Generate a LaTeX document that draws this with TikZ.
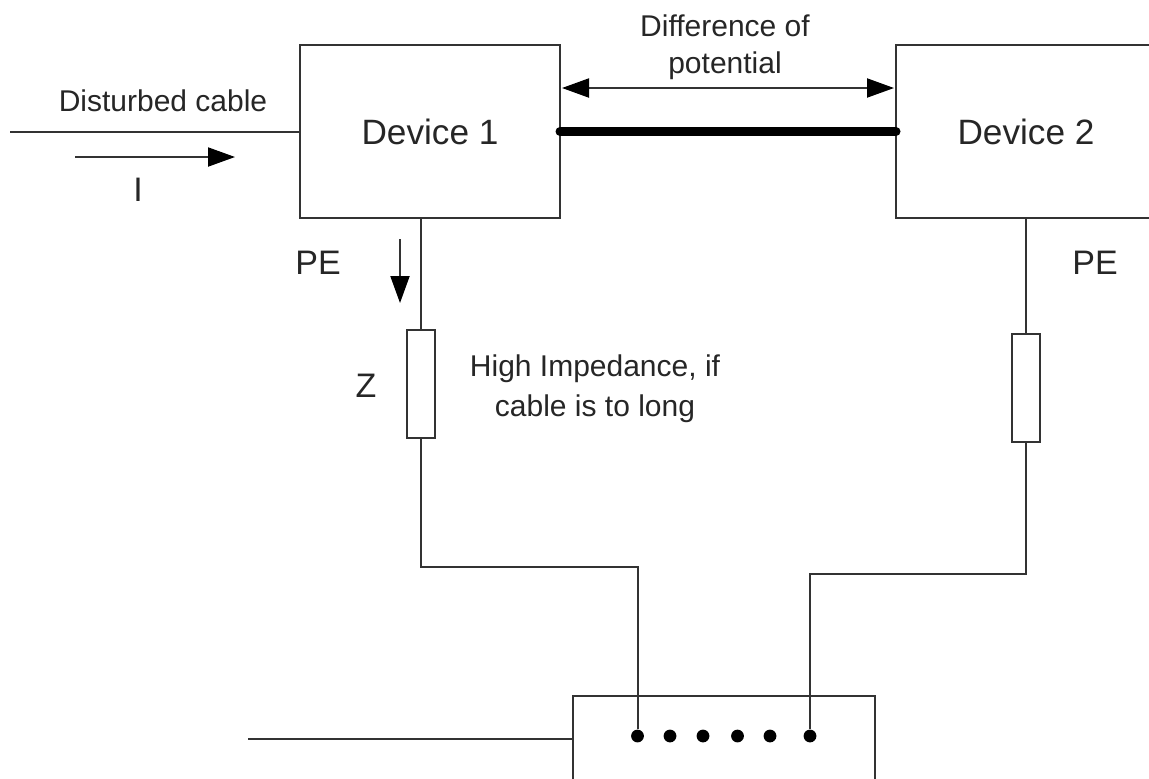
\documentclass[tikz,border=0pt]{standalone}
\usepackage{fontspec}
\setmainfont{Liberation Sans}
\usepackage{tikz}
\usetikzlibrary{arrows.meta, positioning}

\definecolor{wirecol}{gray}{0.2}

\begin{document}
\begin{tikzpicture}[
                x=0.5pt, y=-0.5pt,
                device/.style={draw=wirecol, line width=1pt, rectangle, outer sep=0pt, inner sep=0pt, minimum width=130pt, minimum height=86.5pt, font=\fontsize{17.6}{21}\selectfont, text=black!85},
                zone/.style={draw=wirecol, line width=1pt, rectangle, outer sep=0pt, inner sep=0pt, minimum width=14pt, minimum height=54pt},
                txt/.style={align=center, inner sep=0pt, font=\fontsize{15}{18.5}\selectfont, text=black!85},
                bigtxt/.style={inner sep=0pt, font=\fontsize{17}{20}\selectfont, text=black!85},
                pin/.style={circle, fill=black, inner sep=0pt, minimum size=6.4pt},
                wire/.style={draw=wirecol, line width=1pt},
                tip/.tip={Triangle[length=13.5pt, width=9.5pt, fill=black, color=black]},
                arrow/.style={wire, -tip},
                link/.style={line width=4.5pt, line cap=round}]
            \path[use as bounding box, clip] (0,0) rectangle (1149,778);

            % Appareils
            \node[device] (device1) at (430,131.5) {Device 1};
            \node[device] (device2) at (1026,131.5) {Device 2};
            \node[device, minimum width=151pt, minimum height=80pt] (rail) at (723.5,776) {};

            % Impedances
            \node[zone] (zone1) at (421,384) {};
            \node[zone] (zone2) at (1026,388) {};

            % Textes
            \node[txt] (cable) at (163,101) {Disturbed cable};
            \node[bigtxt] (current) at (138,190) {I};
            \node[txt] (diff) at (725,47) {Difference of\\potential};
            \node[bigtxt] (pe1) at (318,263) {PE};
            \node[bigtxt] (pe2) at (1095,263) {PE};
            \node[bigtxt] (z) at (366,386) {Z};
            \node[txt, font=\fontsize{15}{20}\selectfont] (high) at (595,389) {High Impedance, if\\cable is to long};

            % Bornes
            \foreach \i/\xx in {1/637.5, 2/670, 3/703, 4/737.5, 5/770, 6/810} {
                \node[pin] (pin\i) at (\xx,736) {};
            }

            \coordinate (cablein) at (10,131.5);
            \coordinate (railin) at (248,739);
            \coordinate (iA) at (75,157);
            \coordinate (iB) at (235,157);
            \coordinate (peA) at (400,239);
            \coordinate (peB) at (400,303);
            \coordinate (diffA) at (562,88);
            \coordinate (diffB) at (894,88);
            \coordinate (bend1) at (637.5,567);
            \coordinate (bend2) at (810,574);

            % Liaisons
            \draw[wire] (cablein) -- (device1.west |- cablein);
            \draw[wire] (railin) -- (rail.west |- railin);
            \draw[arrow] (iA) -- (iB);
            \draw[arrow] (peA) -- (peB);
            \draw[wire, tip-tip] (diffA) -- (diffB);
            \draw[link] (device1.east) -- (device2.west);
            \draw[wire] (zone1.north |- device1.south) -- (zone1.north);
            \draw[wire] (device2.south) -- (zone2.north);
            \draw[wire] (zone1.south) |- (bend1) -- (pin1);
            \draw[wire] (zone2.south) |- (bend2) -- (pin6);

        \end{tikzpicture}
\end{document}
